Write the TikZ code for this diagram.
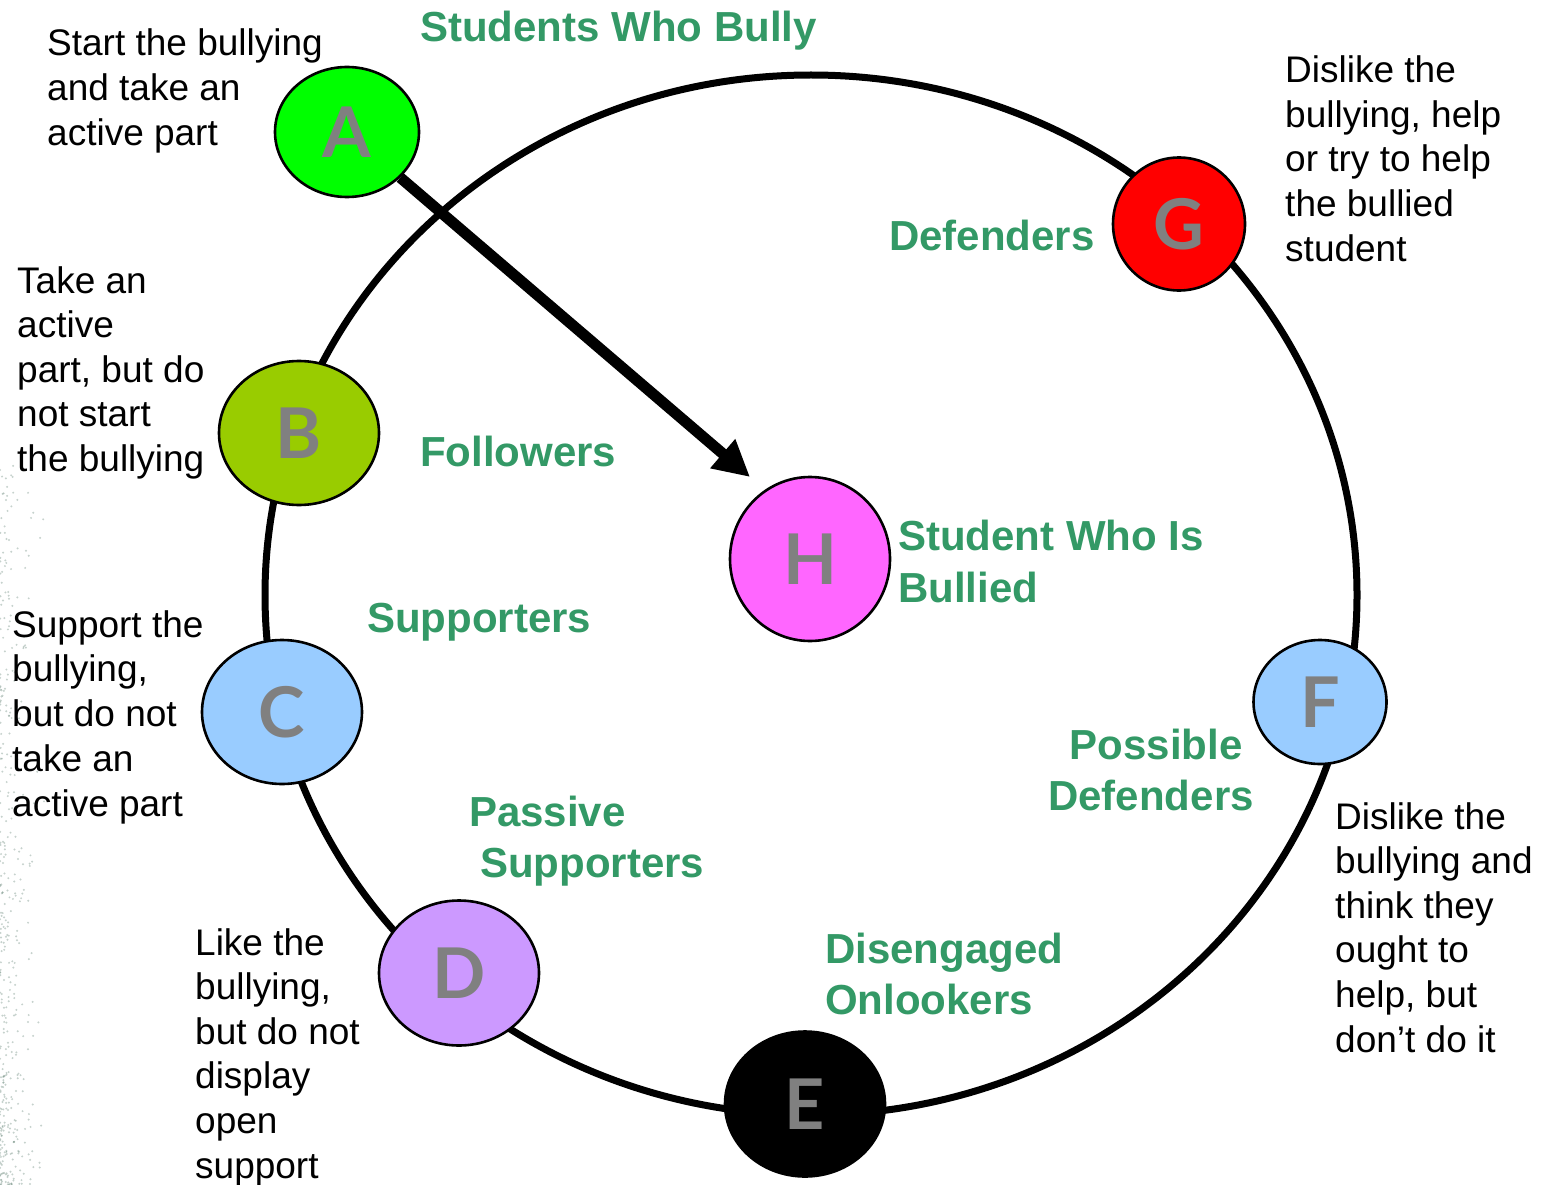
\documentclass[tikz,border=0pt]{standalone}
\usepackage{fontspec}
\setmainfont{Liberation Sans}
\newfontfamily\letterfont{Lato}
\usetikzlibrary{arrows.meta,shapes.geometric}
\definecolor{lblgreen}{HTML}{339966}
\definecolor{lettergrey}{HTML}{808080}
\definecolor{fillA}{HTML}{00FF00}
\definecolor{fillB}{HTML}{99CC00}
\definecolor{fillC}{HTML}{99CCFF}
\definecolor{fillD}{HTML}{CC99FF}
\definecolor{fillG}{HTML}{FF0000}
\definecolor{fillH}{HTML}{FF66FF}
\definecolor{speck}{HTML}{5E7F70}
\tikzset{
  role/.style={ellipse, draw=black, line width=2.6pt, inner sep=0pt,
    font=\letterfont\bfseries\fontsize{70}{70}\selectfont, text=lettergrey},
  desc/.style={anchor=base west, inner sep=0pt, font=\fontsize{37}{44}\selectfont, text=black},
  grp/.style={anchor=base west, inner sep=0pt, font=\bfseries\fontsize{42}{50}\selectfont, text=lblgreen},
  grpc/.style={grp, anchor=base},
  ring/.style={line width=7pt, draw=black},
  bigarrow/.style={line width=11pt, -{Triangle[length=36pt,width=36pt]}}
}
\begin{document}
\begin{tikzpicture}[x=1pt,y=-1pt]
\useasboundingbox (0,0) rectangle (1541,1185);
\fill[white] (0,0) rectangle (1541,1185);
% faint speckled texture on the left edge
\pgfmathsetseed{11}
\foreach \k in {1,...,420}{
  \pgfmathsetmacro\xx{45*rnd*rnd}
  \pgfmathsetmacro\yy{1185-720*rnd^1.6}
  \fill[speck, opacity=0.35] (\xx,\yy) circle (1.1pt);
}
% big ring
\draw[ring] (811,595) ellipse [x radius=546pt, y radius=520pt];
% role circles
\node[role, fill=fillA, minimum width=144pt, minimum height=130pt] (A) at (347,132) {A};
\node[role, fill=fillG, minimum width=132pt, minimum height=133pt] (G) at (1179,224) {G};
\node[role, fill=fillB, minimum width=160pt, minimum height=144pt] (B) at (299,433) {B};
\node[role, fill=fillH, minimum width=160pt, minimum height=164pt] (H) at (810,559) {H};
\node[role, fill=fillC, minimum width=160pt, minimum height=144pt] (C) at (282,712) {C};
\node[role, fill=fillC, minimum width=133pt, minimum height=124pt] (F) at (1320,702) {F};
\node[role, fill=fillD, minimum width=160pt, minimum height=145pt] (D) at (459,973) {D};
\node[role, fill=black, minimum width=160pt, minimum height=145pt] (E) at (805,1104) {E};
% arrow from A towards H
\coordinate (tip) at (750,477);
\draw[bigarrow] (A) -- (tip);
% group labels
\node[grp] (lA) at (420,42) {Students Who Bully};
\node[grp] (lG) at (889,250) {Defenders};
\node[grp] (lB) at (420,466) {Followers};
\node[grp] (lH1) at (898,550) {Student Who Is};
\node[grp] (lH2) at (898,602) {Bullied};
\node[grp] (lC) at (367,632) {Supporters};
\node[grpc] (lF1) at (1156,759) {Possible};
\node[grpc] (lF2) at (1151,810) {Defenders};
\node[grp] (lD1) at (469,826) {Passive};
\node[grp] (lD2) at (480,877) {Supporters};
\node[grp] (lE1) at (825,963) {Disengaged};
\node[grp] (lE2) at (825,1014) {Onlookers};
% descriptions
\foreach \t [count=\i from 0] in {Start the bullying, and take an, active part}
  \node[desc] (dA-\i) at (47,56+44.8*\i) {\t};
\foreach \t [count=\i from 0] in {Take an, active, {part, but do}, not start, the bullying}
  \node[desc] (dB-\i) at (17,293+44.5*\i) {\t};
\foreach \t [count=\i from 0] in {Support the, {bullying,}, but do not, take an, active part}
  \node[desc] (dC-\i) at (12,637+44.75*\i) {\t};
\foreach \t [count=\i from 0] in {Like the, {bullying,}, but do not, display, open, support}
  \node[desc] (dD-\i) at (195,955+44.6*\i) {\t};
\foreach \t [count=\i from 0] in {Dislike the, {bullying, help}, or try to help, the bullied, student}
  \node[desc] (dG-\i) at (1285,83+44.5*\i) {\t};
\foreach \t [count=\i from 0] in {Dislike the, bullying and, think they, ought to, {help, but}, don’t do it}
  \node[desc] (dF-\i) at (1335,829+44.6*\i) {\t};
\end{tikzpicture}
\end{document}
